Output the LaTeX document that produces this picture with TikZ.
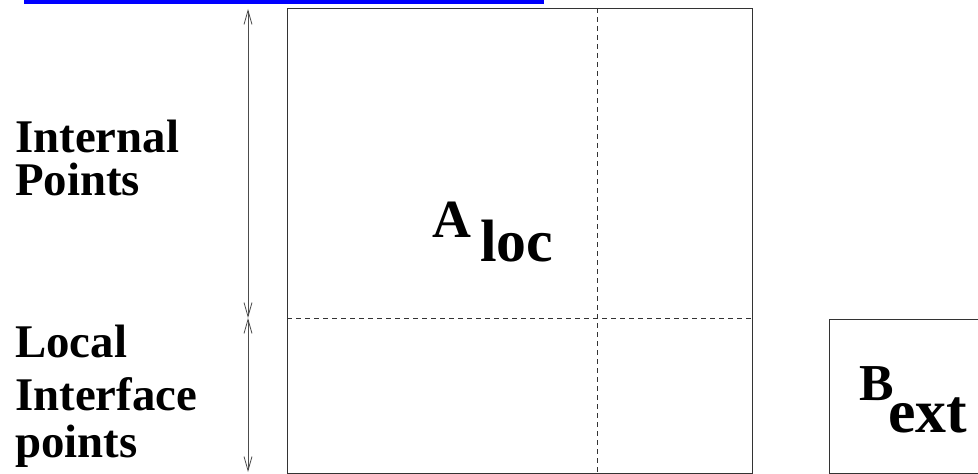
\documentclass[tikz,border=0pt]{standalone}
\usepackage{fontspec}
\setmainfont{Liberation Serif}
\usetikzlibrary{arrows.meta}

\begin{document}
\begin{tikzpicture}[
  x=1bp,y=-1bp,
  >={Straight Barb[length=14bp,width=8bp]},
  frame/.style={draw=black!80,line width=0.8bp},
  split/.style={draw=black!80,line width=0.8bp,dash pattern=on 5bp off 4bp},
  span/.style={<->,draw=black!70,line width=0.8bp},
  lab/.style={anchor=base west,inner sep=0pt,font=\fontsize{47}{47}\selectfont\bfseries},
  big/.style={anchor=base west,inner sep=0pt,font=\fontsize{#1}{#1}\selectfont\bfseries}]

  \useasboundingbox (0,0) rectangle (978,474);
  \clip (0,0) rectangle (978,474);

  % ---- blue bar ----
  \fill[blue] (24,0) rectangle (544,4);

  % ---- matrix blocks ----
  \coordinate (atl) at (287,8);
  \coordinate (abr) at (752,473);
  \draw[frame] (atl) rectangle (abr);
  \coordinate (vtop) at (597,8);
  \coordinate (vbot) at (597,473);
  \coordinate (hleft) at (287,318);
  \coordinate (hright) at (752,318);
  \draw[split] (vtop) -- (vbot);
  \draw[split] (hleft) -- (hright);

  \coordinate (btl) at (829,319);
  \coordinate (bbr) at (1000,473);
  \draw[frame] (btl) rectangle (bbr);

  \node[big=54] (aname) at (432,238) {A};
  \node[big=60] (asub) at (480,262) {loc};
  \node[big=52] (bname) at (859,400) {B};
  \node[big=62] (bsub) at (888,432) {ext};

  % ---- point ranges ----
  \coordinate (inttop) at (248,9);
  \coordinate (intbot) at (248,318);
  \coordinate (ifbot) at (248,472);
  \draw[span] (inttop) -- (intbot);
  \draw[span] (intbot) -- (ifbot);

  % ---- labels ----
  \node[lab] (int1) at (15,153) {Internal};
  \node[lab] (int2) at (15,196) {Points};
  \node[lab] (loc1) at (15,358) {Local};
  \node[lab] (loc2) at (15,410) {Interface};
  \node[lab] (loc3) at (15,457) {points};
\end{tikzpicture}
\end{document}
